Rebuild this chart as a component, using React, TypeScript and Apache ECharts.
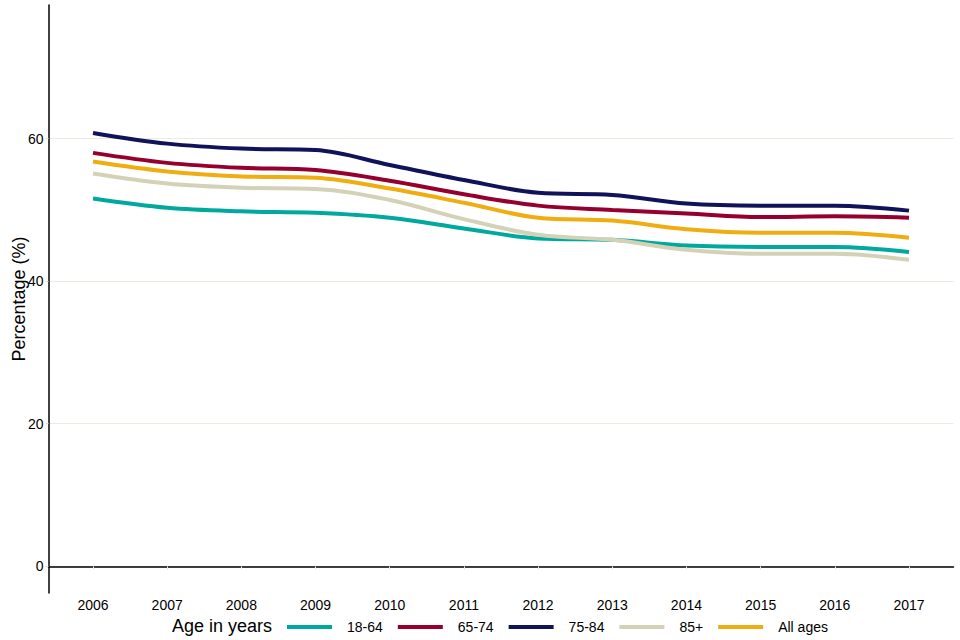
import React, { useEffect, useRef } from "react";
import * as echarts from "echarts";

const years = [2006, 2007, 2008, 2009, 2010, 2011, 2012, 2013, 2014, 2015, 2016, 2017];
const ageGroups = ["18-64", "65-74", "75-84", "85+", "All ages"];
const v18_64 = [51.6, 50.3, 49.8, 49.6, 48.9, 47.4, 46.0, 45.8, 45.0, 44.8, 44.8, 44.1];
const v65_74 = [58.0, 56.6, 55.9, 55.6, 54.1, 52.2, 50.6, 50.0, 49.5, 49.0, 49.1, 48.9];
const v75_84 = [60.8, 59.3, 58.6, 58.4, 56.3, 54.2, 52.4, 52.1, 50.9, 50.6, 50.6, 49.9];
const v85plus = [55.1, 53.7, 53.1, 52.95, 51.4, 48.7, 46.5, 45.8, 44.4, 43.85, 43.85, 43.0];
const vAll = [56.8, 55.4, 54.7, 54.5, 53.0, 51.0, 48.9, 48.5, 47.3, 46.8, 46.8, 46.1];
const seriesValues = [v18_64, v65_74, v75_84, v85plus, vAll];
const colors = ["#00a99d", "#96002f", "#10125a", "#d4d2b6", "#f0ad12"];

const FONT = "'Liberation Sans', Arial, sans-serif";

export default function App() {
  const ref = useRef<HTMLDivElement>(null);
  useEffect(() => {
    if (!ref.current) return;
    const chart = echarts.init(ref.current, undefined, { renderer: "svg" });
    chart.setOption({
      animation: false,
      backgroundColor: "#ffffff",
      textStyle: { fontFamily: FONT },
      grid: {
        left: 48.5,
        right: 6.5,
        top: 5,
        bottom: 47,
        containLabel: false,
        outerBoundsMode: "none",
      },
      xAxis: {
        type: "value",
        min: 2005.4,
        max: 2017.6,
        splitNumber: 12,
        axisLine: { show: true, lineStyle: { color: "#000", width: 1.5 } },
        axisTick: { show: true, length: 3, lineStyle: { color: "#e4e4d6" } },
        axisLabel: {
          show: true,
          showMinLabel: false,
          showMaxLabel: false,
          color: "#000",
          fontSize: 14,
          fontFamily: FONT,
          margin: 5,
          formatter: (v: number) => String(Math.round(v)),
        },
        splitLine: { show: false },
      },
      yAxis: {
        type: "value",
        min: -3.75,
        max: 78.75,
        splitNumber: 4,
        name: "Percentage (%)",
        nameLocation: "middle",
        nameGap: 21,
        nameMoveOverlap: false,
        nameTextStyle: { fontSize: 18, color: "#000", fontFamily: FONT },
        axisLine: { show: true, lineStyle: { color: "#000", width: 1.5 } },
        axisTick: { show: true, length: 3, lineStyle: { color: "#e4e4d6" } },
        axisLabel: {
          showMinLabel: false,
          showMaxLabel: false,
          color: "#000",
          fontSize: 14,
          fontFamily: FONT,
          margin: 5,
        },
        splitLine: {
          show: true,
          showMinLine: false,
          showMaxLine: false,
          lineStyle: { color: "#ebebdf", width: 1 },
        },
      },
      legend: {
        left: 287,
        top: 620,
        padding: 0,
        itemWidth: 45,
        itemHeight: 4,
        itemGap: 15,
        icon: "rect",
        data: ageGroups,
        textStyle: { fontSize: 14, color: "#000", fontFamily: FONT, padding: [0, 0, 0, 10] },
      },
      graphic: [
        {
          type: "text",
          left: 172,
          top: 617,
          style: { text: "Age in years", fontSize: 18, fill: "#000", fontFamily: FONT },
        },
      ],
      series: ageGroups.map((name, i) => ({
        name,
        type: "line",
        data: years.map((y, j) => [y, seriesValues[i][j]]),
        smooth: 0.35,
        showSymbol: false,
        symbol: "none",
        lineStyle: { width: 4, color: colors[i] },
        itemStyle: { color: colors[i] },
        z: 2,
      })),
    });
    return () => chart.dispose();
  }, []);
  return (
    <div
      ref={ref}
      style={{ position: "fixed", left: 0, top: 0, width: 960, height: 640 }}
    />
  );
}
